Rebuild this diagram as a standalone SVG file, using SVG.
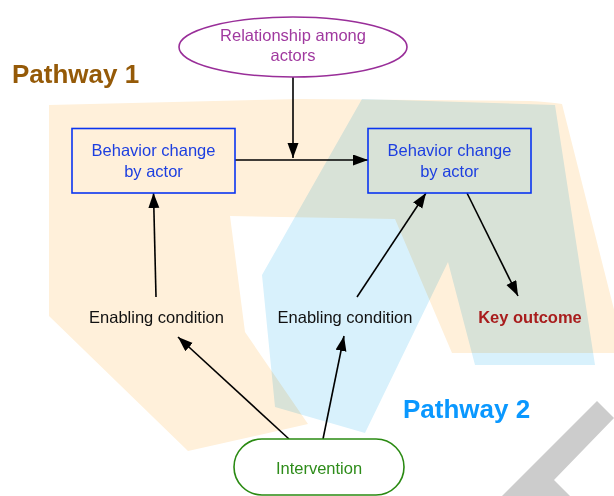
<svg xmlns="http://www.w3.org/2000/svg" width="614" height="496" viewBox="0 0 614 496">
  <style>
    .t { font-family: "Liberation Sans", Arial, Helvetica, sans-serif; font-size: 16.5px; text-anchor: middle; }
    .big { font-family: "Liberation Sans", Arial, Helvetica, sans-serif; font-size: 26px; font-weight: bold; }
    .box { fill: none; stroke: #0a35f0; stroke-width: 1.6; }
    .btxt { fill: #1d3fe0; }
    .edge { fill: none; stroke: #000; stroke-width: 1.6; }
  </style>
  <defs>
    <marker id="arr" markerUnits="userSpaceOnUse" markerWidth="17" markerHeight="13" refX="15" refY="5.5" orient="auto">
      <path d="M0,0 L15,5.5 L0,11 z" fill="#000"/>
    </marker>
  </defs>
  <rect x="0" y="0" width="614" height="496" fill="#ffffff"/>

  <g id="pathway-areas">
    <path id="pathway1-area" fill="#fff0da" d="M49,105 L300,99 L530,101 Q548,102 562,104 L625,353 L452,353 L395,219 L230,216 L245,332 L308,424 L188,451 L49,316 Z"/>
    <path id="pathway2-area" fill="#d8f1fc" style="mix-blend-mode:multiply" d="M362,99 L555,105 L595,365 L475,365 L448,262 L365,433 L275,407 L262,275 Z"/>
    <path id="grey-mark" fill="#cccccc" d="M597,401 L614,418 L554,480 L576,502 L496,502 Z"/>
  </g>

  <g id="labels">
    <text class="big" x="12" y="83" fill="#955a08">Pathway 1</text>
    <text class="big" x="403" y="418" fill="#0a98ff" font-size="26.6">Pathway 2</text>
  </g>

  <g id="connectors">
    <line class="edge" x1="293" y1="77" x2="293" y2="158" marker-end="url(#arr)"/>
    <line class="edge" x1="235" y1="160" x2="368" y2="160" marker-end="url(#arr)"/>
    <line class="edge" x1="156" y1="297" x2="153.5" y2="193" marker-end="url(#arr)"/>
    <line class="edge" x1="357" y1="297" x2="426" y2="193" marker-end="url(#arr)"/>
    <line class="edge" x1="467" y1="193" x2="518" y2="296" marker-end="url(#arr)"/>
    <line class="edge" x1="289" y1="439" x2="178" y2="337" marker-end="url(#arr)"/>
    <line class="edge" x1="323" y1="439" x2="344" y2="336" marker-end="url(#arr)"/>
  </g>

  <g id="node-relationship">
    <ellipse cx="293" cy="47" rx="114" ry="30" fill="#ffffff" stroke="#992e99" stroke-width="1.6"/>
    <text class="t" x="293" y="41" fill="#a0399f">Relationship among</text>
    <text class="t" x="293" y="61" fill="#a0399f">actors</text>
  </g>

  <g id="node-behavior-1">
    <rect class="box" x="72" y="128.5" width="163" height="64.5"/>
    <text class="t btxt" x="153.5" y="156">Behavior change</text>
    <text class="t btxt" x="153.5" y="177">by actor</text>
  </g>

  <g id="node-behavior-2">
    <rect class="box" x="368" y="128.5" width="163" height="64.5"/>
    <text class="t btxt" x="449.5" y="156">Behavior change</text>
    <text class="t btxt" x="449.5" y="177">by actor</text>
  </g>

  <g id="node-enabling-1">
    <text class="t" x="156.5" y="323" fill="#111111">Enabling condition</text>
  </g>

  <g id="node-enabling-2">
    <text class="t" x="345" y="323" fill="#111111">Enabling condition</text>
  </g>

  <g id="node-outcome">
    <text class="t" x="530" y="323" fill="#a81d1d" font-weight="bold">Key outcome</text>
  </g>

  <g id="node-intervention">
    <rect x="234" y="439" width="170" height="56" rx="28" ry="28" fill="#ffffff" stroke="#2a8a12" stroke-width="1.6"/>
    <text class="t" x="319" y="474" fill="#2e8c1a">Intervention</text>
  </g>
</svg>
